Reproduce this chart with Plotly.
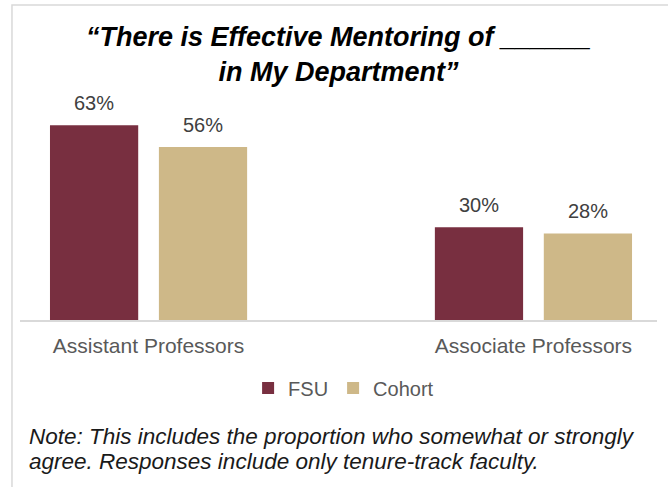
import plotly.graph_objects as go

categories = ["Assistant Professors", "Associate Professors"]
fsu = [63, 30]
cohort = [56, 28]
series_names = ["FSU", "Cohort"]
title_text = "“There is Effective Mentoring of ______<br>in My Department”"
note_lines = ["Note: This includes the proportion who somewhat or strongly",
              "agree. Responses include only tenure-track faculty."]

FONT = "Liberation Sans, Arial, sans-serif"
C_FSU = "#782F40"
C_COH = "#CEB888"
bargap = 0.434
bargroupgap = 0.19

fig = go.Figure()
fig.add_trace(go.Bar(x=categories, y=fsu, name=series_names[0], marker_color=C_FSU,
                     marker_line_width=0, hoverinfo="skip"))
fig.add_trace(go.Bar(x=categories, y=cohort, name=series_names[1], marker_color=C_COH,
                     marker_line_width=0, hoverinfo="skip"))

# data labels above bars, positioned via the axis scales
slot = (1 - bargap) / 2
annotations = []
for i, (series, sgn) in enumerate([(fsu, -1), (cohort, 1)]):
    for j, v in enumerate(series):
        annotations.append(dict(
            x=j + sgn * slot / 2, y=v, xref="x", yref="y",
            text=f"{v}%", showarrow=False, yanchor="bottom", yshift=9,
            font=dict(family=FONT, size=20, color="#404040")))

for k, line in enumerate(note_lines):
    annotations.append(dict(
        x=0.011, y=-0.539 - 0.111 * k, xref="paper", yref="paper",
        xanchor="left", yanchor="middle", align="left", text=line, showarrow=False,
        font=dict(family=FONT, size=22.5, color="#1a1a1a", style="italic")))

fig.update_layout(
    width=668, height=487,
    margin=dict(l=20, r=11, t=103, b=167),
    paper_bgcolor="white", plot_bgcolor="white",
    barmode="group", bargap=bargap, bargroupgap=bargroupgap,
    title=dict(text=title_text, x=0.5, xref="paper", xanchor="center",
               y=0.905, yref="container", yanchor="top",
               font=dict(family=FONT, size=27, color="black", weight="bold", style="italic")),
    xaxis=dict(range=[-0.334, 1.321], showline=True, linecolor="#d9d9d9", linewidth=1.5,
               ticks="", showgrid=False, zeroline=False, ticklabelstandoff=6,
               tickfont=dict(family=FONT, size=21, color="#595959")),
    yaxis=dict(range=[0, 70.2], visible=False, showgrid=False, zeroline=False),
    showlegend=True,
    legend=dict(orientation="h", x=0.508, xanchor="center", y=-0.223, yanchor="top",
                font=dict(family=FONT, size=20, color="#595959"), itemwidth=30,
                traceorder="normal"),
    annotations=annotations,
    shapes=[dict(type="rect", xref="paper", yref="paper",
                 x0=-0.0126, x1=1.05, y0=-0.8, y1=1.4516,
                 line=dict(color="#d9d9d9", width=1.5), fillcolor="rgba(0,0,0,0)",
                 layer="below")],
)

fig.write_html("out.html", config={"displayModeBar": False},
               post_script="document.body.style.margin='0';document.body.style.overflow='hidden';")
